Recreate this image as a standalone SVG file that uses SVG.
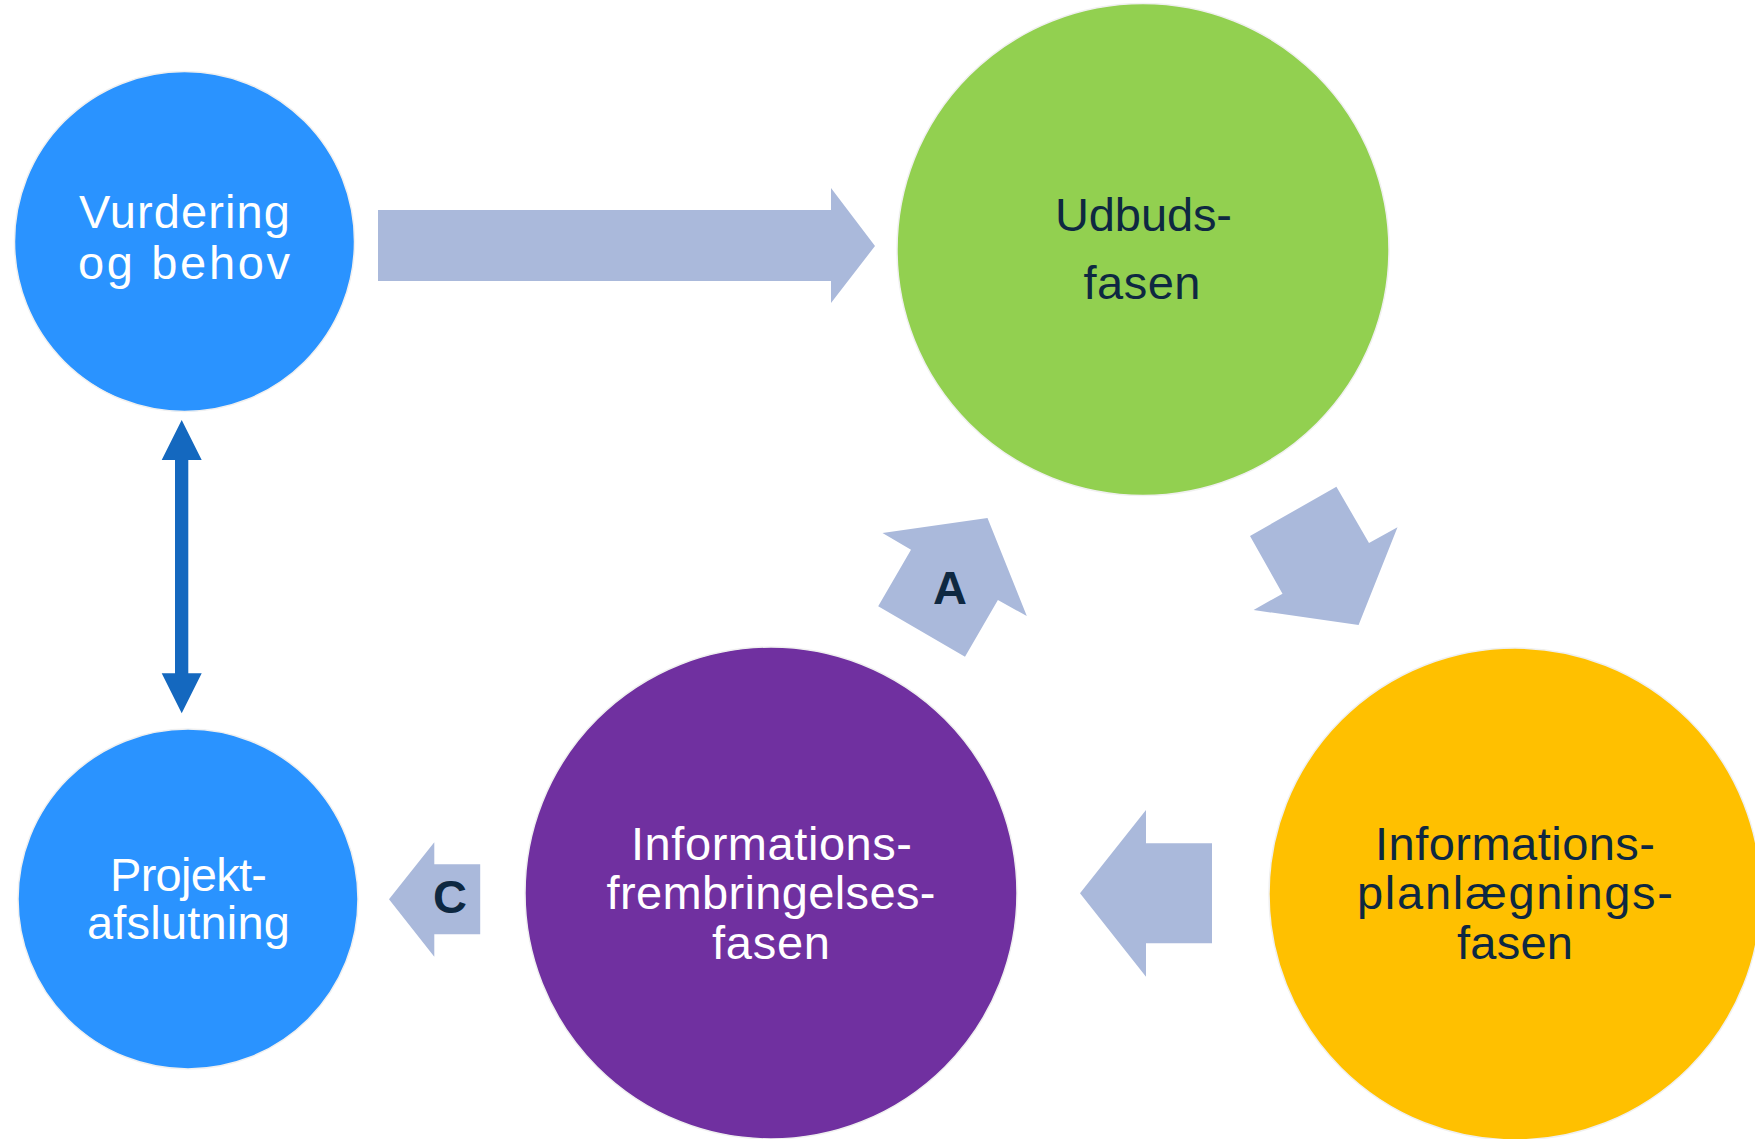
<svg xmlns="http://www.w3.org/2000/svg" width="1755" height="1139" viewBox="0 0 1755 1139">
<style>
.lbl{font-family:"Liberation Sans",Arial,sans-serif;font-size:47px;text-anchor:middle}
.w{fill:#ffffff}
.d{fill:#0e2841}
.tag{font-family:"Liberation Sans",Arial,sans-serif;font-size:47px;font-weight:bold;text-anchor:middle;fill:#0e2841}
.node{stroke:#f0f0f0;stroke-width:1.5}
.fat{fill:#aab9db}
</style>
<rect width="1755" height="1139" fill="#ffffff"/>
<g id="connectors">
<polygon class="fat" points="378,210 831,210 831,188 875,246 831,303 831,281 378,281"/>
<polygon class="fat" points="1250,536 1336.4,486.7 1369,543 1397.5,527.3 1358.6,625 1253.6,610 1282.5,593.7"/>
<polygon class="fat" points="1212,843.3 1146,843.3 1146,810 1080,893.3 1146,976.7 1146,943.3 1212,943.3"/>
<polygon class="fat" points="882.5,533 987.5,518 1026.8,616 997.9,600 965,656.7 878.2,606.3 911,549.7"/>
<polygon class="fat" points="480.2,864.3 434.3,864.3 434.3,842.3 389,899.3 434.3,956.7 434.3,934.3 480.2,934.3"/>
<polygon fill="#1468bf" points="181.7,420 201.7,460 188.3,460 188.3,673.3 201.7,673.3 181.7,713.3 161.7,673.3 175,673.3 175,460 161.7,460"/>
<text class="tag" x="950" y="603.5">A</text>
<text class="tag" x="450" y="912.5">C</text>
</g>
<g id="vurdering">
<circle class="node" cx="184.5" cy="241.5" r="170" fill="#2a93ff"/>
<text class="lbl w" x="184.5" y="228" textLength="211">Vurdering</text>
<text class="lbl w" x="184" y="278.5" textLength="212">og behov</text>
</g>
<g id="udbud">
<circle class="node" cx="1143" cy="249.5" r="246" fill="#92d050"/>
<text class="lbl d" x="1143.5" y="231" textLength="177">Udbuds-</text>
<text class="lbl d" x="1142" y="299" textLength="117">fasen</text>
</g>
<g id="projekt">
<circle class="node" cx="188" cy="899" r="170" fill="#2a93ff"/>
<text class="lbl w" x="188.5" y="890.5" textLength="157">Projekt-</text>
<text class="lbl w" x="188.5" y="939" textLength="203">afslutning</text>
</g>
<g id="frembringelse">
<circle class="node" cx="771" cy="893" r="246" fill="#7030a0"/>
<text class="lbl w" x="771.5" y="859.5" textLength="281">Informations-</text>
<text class="lbl w" x="771" y="908.5" textLength="329">frembringelses-</text>
<text class="lbl w" x="771" y="958.5" textLength="118">fasen</text>
</g>
<g id="planlaegning">
<circle class="node" cx="1515" cy="894" r="246" fill="#ffc000"/>
<text class="lbl d" x="1515" y="860" textLength="280">Informations-</text>
<text class="lbl d" x="1515" y="908.5" textLength="316">planlægnings-</text>
<text class="lbl d" x="1515" y="958.5" textLength="116">fasen</text>
</g>
</svg>
